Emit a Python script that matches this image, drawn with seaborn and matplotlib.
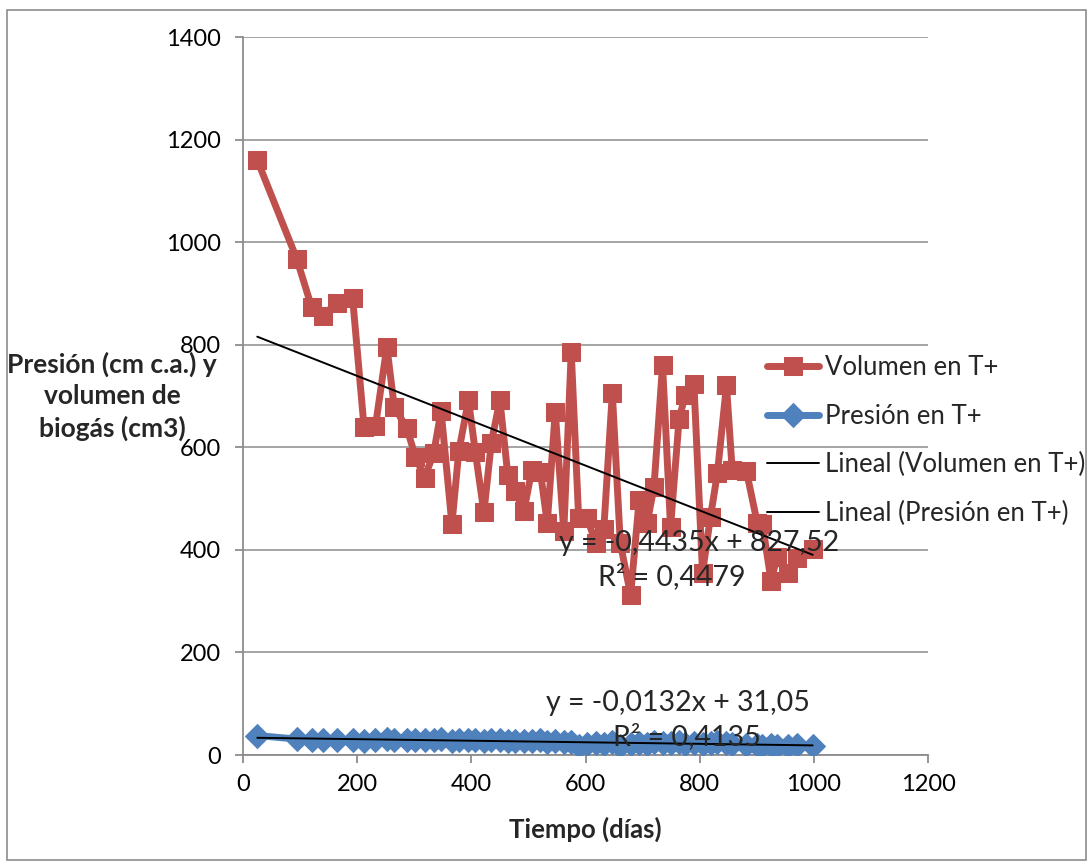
import numpy as np
import pandas as pd
import matplotlib
matplotlib.use("Agg")
import matplotlib.pyplot as plt
import seaborn as sns
from matplotlib.patches import Rectangle

# ---- data ----
tiempo = [25, 94, 120, 140, 164, 192, 212, 232, 252, 265,
          287, 302, 318, 334, 347, 366, 378, 395, 407, 422,
          435, 450, 464, 477, 492, 506, 521, 533, 547, 562,
          575, 588, 603, 618, 632, 647, 661, 679, 694, 708,
          720, 735, 749, 764, 775, 790, 805, 819, 831, 847,
          857, 882, 901, 910, 925, 936, 954, 971, 998]
volumen = [1160, 968, 874, 856, 882, 891, 640, 641, 796, 679,
           637, 582, 541, 588, 671, 450, 592, 692, 591, 473,
           609, 692, 545, 515, 475, 556, 552, 452, 669, 436,
           786, 462, 462, 413, 440, 705, 413, 312, 497, 452,
           523, 760, 445, 656, 702, 723, 355, 465, 549, 721,
           555, 553, 452, 450, 340, 387, 355, 385, 402]
presion = [38, 31, 29, 30, 29, 30, 27, 30, 32, 30,
           30, 29, 29, 30, 31, 28, 29, 30, 29, 27,
           29, 30, 28, 28, 27, 27, 29, 26, 27, 25,
           26, 18, 22, 23, 21, 25, 17, 22, 24, 22,
           25, 24, 23, 25, 22, 24, 21, 24, 26, 24,
           22, 20, 20, 18, 19, 18, 17, 19, 18]
x_ticks = [0, 200, 400, 600, 800, 1000, 1200]
y_ticks = [0, 200, 400, 600, 800, 1000, 1200, 1400]
eq_vol = "y = -0,4435x + 827,52"
r2_vol = "R² = 0,4479"
eq_pre = "y = -0,0132x + 31,05"
r2_pre = "R² = 0,4135"

df = pd.DataFrame({"tiempo": tiempo, "volumen": volumen, "presion": presion})

RED = "#C0504D"
BLUE = "#4F81BD"
GRID = "#8C8C8C"

sns.set_theme(style="white")
plt.rcParams["font.family"] = ["Lato", "DejaVu Sans"]

W, H = 1089, 863
fig = plt.figure(figsize=(W / 100, H / 100), dpi=100)
ax = fig.add_axes([243 / W, 1 - 755 / H, (928 - 243) / W, (755 - 37) / H])

# outer chart border
fig.patches.append(Rectangle((7 / W, 1 - 860 / H), (1086 - 7) / W, (860 - 10) / H,
                             transform=fig.transFigure, fill=False,
                             edgecolor="#8C8C8C", linewidth=1.2))

sns.lineplot(data=df, x="tiempo", y="volumen", ax=ax, color=RED, marker="s",
             markersize=13, markeredgecolor=RED, linewidth=5, label="Volumen en T+",
             zorder=3)
sns.lineplot(data=df, x="tiempo", y="presion", ax=ax, color=BLUE, marker="D",
             markersize=12, markeredgecolor=BLUE, linewidth=5, label="Presión en T+",
             zorder=3)
sns.regplot(data=df, x="tiempo", y="volumen", ax=ax, scatter=False, ci=None,
            truncate=True, color="black", line_kws={"linewidth": 1.4, "zorder": 4},
            label="Lineal (Volumen en T+)")
sns.regplot(data=df, x="tiempo", y="presion", ax=ax, scatter=False, ci=None,
            truncate=True, color="black", line_kws={"linewidth": 1.4, "zorder": 4},
            label="Lineal (Presión en T+)")

ax.set_xlim(0, 1200)
ax.set_ylim(0, 1400)
ax.set_xticks(x_ticks)
ax.set_yticks(y_ticks)
ax.set_xticklabels([str(t) for t in x_ticks])
ax.set_yticklabels([str(t) for t in y_ticks])
ax.set_xlabel("")
ax.set_ylabel("")

ax.yaxis.grid(True, color=GRID, linewidth=1.1)
ax.xaxis.grid(False)
ax.set_axisbelow(True)
for s in ["top", "right"]:
    ax.spines[s].set_visible(False)
for s in ["left", "bottom"]:
    ax.spines[s].set_color(GRID)
    ax.spines[s].set_linewidth(1.3)
ax.tick_params(axis="both", which="major", direction="out", color=GRID,
               width=1.3, length=6, labelsize=17, labelcolor="black",
               bottom=True, left=True)
ax.tick_params(axis="y", pad=10)
ax.tick_params(axis="x", pad=8)


def px(xp, yp):
    return (xp / W, 1 - yp / H)


TXT = 20.5
fig.text(*px(699, 543), eq_vol, ha="center", va="center", fontsize=TXT, zorder=5)
fig.text(*px(672, 577), r2_vol, ha="center", va="center", fontsize=TXT, zorder=5)
fig.text(*px(678, 703), eq_pre, ha="center", va="center", fontsize=TXT, zorder=5)
fig.text(*px(687, 737), r2_pre, ha="center", va="center", fontsize=TXT, zorder=5)

# axis titles
fig.text(*px(112, 396), "Presión (cm c.a.) y\nvolumen de\nbiogás (cm3)",
         ha="center", va="center", fontsize=19, fontweight="bold", linespacing=1.35)
fig.text(*px(585, 829), "Tiempo (días)", ha="center", va="center",
         fontsize=18.5, fontweight="bold")

# legend
handles, labels = ax.get_legend_handles_labels()
order = ["Volumen en T+", "Presión en T+", "Lineal (Volumen en T+)", "Lineal (Presión en T+)"]
hmap = dict(zip(labels, handles))
LEG = 18.5
leg = ax.legend([hmap[l] for l in order], order, loc="upper left",
                bbox_to_anchor=(767 / W, 1 - 355 / H), bbox_transform=fig.transFigure,
                frameon=False, fontsize=LEG, handlelength=2.02, handletextpad=0.24,
                labelspacing=0.92, borderaxespad=0, borderpad=0, numpoints=1)

fig.savefig("out.png", dpi=100)
